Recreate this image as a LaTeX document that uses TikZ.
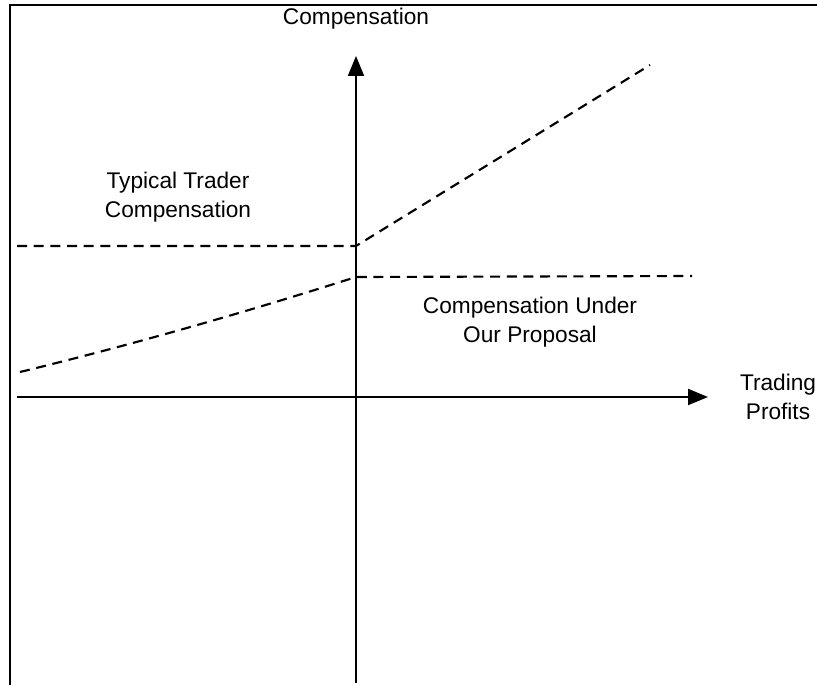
\documentclass[tikz,border=0pt]{standalone}
\usepackage{fontspec}
\setmainfont{Liberation Sans}
\usetikzlibrary{arrows.meta}
\begin{document}
\begin{tikzpicture}[x=0.75pt,y=-0.75pt,
  axis/.style={line width=1.5pt,-{Triangle[length=15pt,width=12pt]}},
  frame/.style={line width=1.6pt},
  curve/.style={line width=1.6pt,dash pattern=on 7.5pt off 5pt},
  lbl/.style={align=center,inner sep=0pt,font=\fontsize{17}{21.75}\selectfont}]
\useasboundingbox (0,0) rectangle (817,685);
% frame (top and left only)
\coordinate (fTL) at (10,5);
\coordinate (fTR) at (817,5);
\coordinate (fBL) at (10,685);
\draw[frame] (fTR) -- (fTL) -- (fBL);
% axes
\coordinate (yb) at (356,683);
\coordinate (yt) at (356,56);
\coordinate (xl) at (17,397);
\coordinate (xr) at (708,397);
\draw[axis] (yb) -- (yt);
\draw[axis] (xl) -- (xr);
% typical trader compensation
\coordinate (t0) at (17,246);
\coordinate (t1) at (356,246);
\coordinate (t2) at (650,65);
\draw[curve] (t0) -- (t1) -- (t2);
% proposal
\coordinate (p0) at (20,372);
\coordinate (p1) at (356,277);
\coordinate (p2) at (692,276);
\draw[curve] (p0) .. controls (131,345) and (243,313) .. (p1) -- (p2);
% labels
\node[lbl] (ylab) at (356,19) {Compensation};
\node[lbl] (xlab) at (778,397) {Trading\\Profits};
\node[lbl] (tlab) at (178,197) {Typical Trader\\Compensation};
\node[lbl] (plab) at (530,322) {Compensation Under\\Our Proposal};
\end{tikzpicture}
\end{document}
